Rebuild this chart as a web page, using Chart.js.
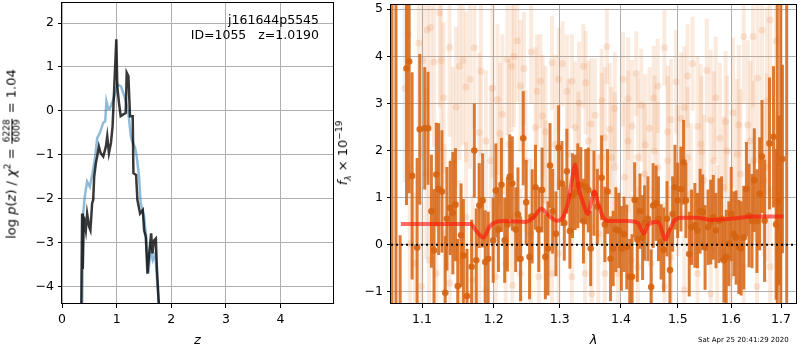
<!DOCTYPE html>
<html>
<head>
<meta charset="utf-8">
<script src="https://cdn.jsdelivr.net/npm/chart.js@4.4.1/dist/chart.umd.min.js"></script>
<style>
  body { margin: 0; background: #fff; }
  #wrap { position: relative; width: 800px; height: 350px; font-family: "DejaVu Sans", sans-serif; color: #000; }
  #pz { position: absolute; left: 0; top: 0; }
  #spec { position: absolute; left: 340px; top: 0; }
  .ytitle { position: absolute; transform: translate(-50%, -50%) rotate(-90deg); white-space: nowrap; font-size: 13px; line-height: 1; }
  .ytitle sup, .ytitle sub { font-size: 9px; }
  .frac { display: inline-block; vertical-align: middle; text-align: center; font-size: 9px; line-height: 1; margin: 0 1px; }
  .frac span { display: block; padding: 0 1px; }
  .frac span:first-child { border-bottom: 1px solid #000; }
  #stamp { position: absolute; left: 698px; top: 336px; font-size: 7px; white-space: nowrap; }
</style>
</head>
<body>
<div id="wrap">
  <canvas id="pz" width="340" height="350"></canvas>
  <canvas id="spec" width="460" height="350"></canvas>
  <div class="ytitle" style="left:12px; top:154px;">log <i>p</i>(<i>z</i>) / <i>χ</i><sup>2</sup> = <span class="frac"><span>6228</span><span>6009</span></span> = 1.04</div>
  <div class="ytitle" style="left:344px; top:153px;"><i>f</i><sub><i>λ</i></sub> × 10<sup>−19</sup></div>
  <div id="stamp">Sat Apr 25 20:41:29 2020</div>
</div>
<script>
// axis limits and ticks
const pzRangeX = [0, 4.96];
const pzRangeY = [-4.4, 2.48];
const pzTicksX = [0, 1, 2, 3, 4];
const pzTicksY = [-4, -3, -2, -1, 0, 1, 2];
const specRangeX = [1.0594, 1.7311];
const specRangeY = [-1.26, 5.11];
const specTicksX = [1.1, 1.2, 1.3, 1.4, 1.5, 1.6, 1.7];
const specTicksY = [-1, 0, 1, 2, 3, 4, 5];

// p(z) curves
const zBlue = [0.368, 0.387, 0.417, 0.46, 0.509, 0.558, 0.601, 0.644, 0.693, 0.755, 0.791, 0.813, 0.847, 0.877, 0.939, 0.96, 1.02, 1.08, 1.14, 1.172, 1.2, 1.215, 1.26, 1.276, 1.337, 1.368, 1.41, 1.44, 1.47, 1.5, 1.54, 1.58, 1.62, 1.66, 1.706, 1.736, 1.785];
const pzBlue = [-4.6, -2.34, -1.95, -1.61, -1.73, -1.42, -1.11, -0.62, -0.5, -0.27, -0.24, 0.22, 0.05, 0.05, 0.26, 0.34, 0.6, 0.56, 0.34, 0.2, 0.03, -0.05, -0.58, -0.66, -0.84, -1.04, -1.49, -2.1, -2.26, -2.4, -2.86, -3.7, -3.17, -3.4, -3.25, -3.79, -4.6];
const zDark = [0.352, 0.368, 0.38, 0.399, 0.436, 0.46, 0.497, 0.52, 0.552, 0.571, 0.589, 0.62, 0.644, 0.675, 0.706, 0.755, 0.804, 0.828, 0.859, 0.896, 0.926, 0.957, 0.994, 1.012, 1.043, 1.074, 1.123, 1.166, 1.184, 1.215, 1.245, 1.294, 1.307, 1.356, 1.38, 1.429, 1.479, 1.503, 1.534, 1.564, 1.601, 1.632, 1.656, 1.687, 1.718, 1.736, 1.78];
const pzDark = [-4.6, -2.34, -3.6, -2.41, -2.72, -2.34, -2.64, -2.72, -2.1, -2.03, -1.5, -1.19, -1.04, -0.81, -0.96, -1.04, -0.81, -0.58, -0.96, -0.73, -0.35, 0.56, 1.63, 0.56, 0.18, -0.12, -0.08, -0.05, 0.87, 0.79, -0.12, -0.12, -1.42, -1.46, -2.03, -2.34, -2.26, -2.72, -2.87, -3.71, -3.18, -2.79, -3.25, -2.95, -2.91, -3.56, -4.6];

// spectrum: main points
const specWave = [1.0606, 1.0658, 1.0712, 1.0795, 1.0830, 1.0869, 1.0935, 1.0970, 1.1036, 1.1081, 1.1126, 1.1161, 1.1192, 1.1224, 1.1269, 1.1314, 1.1337, 1.1382, 1.1419, 1.1455, 1.1487, 1.1534, 1.1566, 1.1617, 1.1682, 1.1720, 1.1748, 1.1791, 1.1838, 1.1876, 1.1919, 1.1991, 1.2030, 1.2068, 1.2112, 1.2160, 1.2200, 1.2234, 1.2273, 1.2323, 1.2357, 1.2396, 1.2436, 1.2481, 1.2532, 1.2572, 1.2623, 1.2673, 1.2724, 1.2775, 1.2816, 1.2847, 1.2888, 1.2939, 1.2981, 1.3034, 1.3071, 1.3112, 1.3160, 1.3202, 1.3244, 1.3287, 1.3335, 1.3378, 1.3415, 1.3458, 1.3496, 1.3550, 1.3605, 1.3676, 1.3730, 1.3774, 1.3825, 1.3869, 1.3914, 1.3964, 1.4008, 1.4053, 1.4099, 1.4150, 1.4190, 1.4235, 1.4281, 1.4327, 1.4373, 1.4408, 1.4466, 1.4523, 1.4558, 1.4611, 1.4652, 1.4699, 1.4746, 1.4805, 1.4858, 1.4906, 1.4948, 1.4997, 1.5057, 1.5105, 1.5148, 1.5209, 1.5252, 1.5313, 1.5362, 1.5411, 1.5460, 1.5504, 1.5560, 1.5610, 1.5660, 1.5710, 1.5767, 1.5817, 1.5862, 1.5907, 1.5958, 1.6003, 1.6054, 1.6099, 1.6151, 1.6196, 1.6249, 1.6301, 1.6353, 1.6412, 1.6458, 1.6511, 1.6564, 1.6611, 1.6664, 1.6764, 1.6845, 1.6899, 1.6923, 1.6960, 1.6994, 1.7029, 1.7117];
const specFlux = [-5, -5, -1.6, 3.74, 3.89, 1.46, -0.06, 2.45, 2.47, 2.47, 0.71, -0.12, 1.49, 1.18, 1.13, -1.02, 0.55, 0.78, 0.67, 0.85, -0.88, 0.2, -0.23, -1.09, -0.47, 2.0, -0.33, 0.83, 0.94, -0.37, -0.3, 0.09, 1.15, 0.32, 1.27, 0.09, 0.43, 1.44, 1.3, 0.32, 0.64, -0.3, 2.26, 0.9, -0.26, 0.6, 1.22, 0.32, 1.16, -0.26, -0.08, 1.68, 0.71, 0.23, 2.06, 1.3, 0.46, 1.56, 0.29, 1.04, 1.11, 1.25, 1.27, 0.5, 1.23, 1.16, -0.08, 1.09, 0.81, 1.42, 0.43, 1.13, -0.3, -0.08, 0.32, 0.3, -0.08, 0.22, -0.05, -0.68, -0.68, 0.95, 0.11, 0.71, 0.15, 0.46, 0.55, -0.9, 0.83, 0.88, 0.55, 0.06, -0.11, 0.55, -0.54, 0.65, 1.22, 0.94, 1.18, 1.75, 0.94, -0.2, 0.37, 0.41, 0.3, 0.71, 0.69, -0.06, 0.37, 0.48, 0.58, 0.3, 0.51, 0.55, -0.33, -0.26, 0.02, 0.65, 0.23, 0.15, -0.05, -0.08, 0.15, 1.18, 0.62, 0.5, 1.37, 0.5, 1.08, 1.87, 0.51, 2.15, 2.29, 0.43, 8, 0.94, 8, 1.82, 8];
const specErr = [12, 12, 1.8, 2.9, 2.8, 2.2, 1.9, 1.6, 1.3, 1.2, 1.2, 1.3, 1.1, 1.4, 1.3, 1.2, 1.1, 1.0, 1.3, 1.2, 1.0, 1.1, 1.2, 1.0, 1.0, 1.0, 1.1, 0.9, 1.0, 1.1, 1.0, 0.9, 1.0, 0.9, 1.0, 0.9, 1.0, 0.9, 1.0, 0.9, 1.0, 0.9, 1.0, 0.9, 0.9, 1.0, 0.9, 0.9, 0.9, 0.9, 1.0, 0.9, 0.9, 0.9, 0.9, 0.9, 0.8, 0.9, 0.8, 0.9, 0.8, 0.9, 0.8, 0.9, 0.8, 0.9, 0.8, 0.9, 0.8, 0.9, 0.8, 0.9, 0.9, 0.8, 0.9, 0.8, 0.9, 0.8, 0.9, 0.8, 0.9, 0.8, 0.9, 0.8, 0.9, 0.8, 0.9, 0.8, 0.9, 0.8, 0.9, 0.8, 0.9, 0.8, 0.9, 0.8, 0.9, 0.8, 0.9, 0.9, 0.8, 0.9, 0.8, 0.9, 0.8, 0.9, 0.8, 0.9, 0.8, 0.9, 0.9, 0.8, 0.9, 0.9, 0.9, 1.0, 0.9, 1.0, 0.9, 1.0, 1.0, 1.0, 1.1, 1.0, 1.1, 1.0, 1.1, 1.1, 1.2, 1.2, 1.3, 1.4, 1.5, 1.6, 12, 1.8, 12, 2.0, 12];

// spectrum: faint background points
const bgWave = [1.0774, 1.0817, 1.0957, 1.1014, 1.1068, 1.1112, 1.1161, 1.1237, 1.1259, 1.1291, 1.1373, 1.1464, 1.1510, 1.1557, 1.1603, 1.1659, 1.1720, 1.1815, 1.1886, 1.1981, 1.2054, 1.2088, 1.2127, 1.2200, 1.2264, 1.2298, 1.2347, 1.2396, 1.2446, 1.2557, 1.2648, 1.2699, 1.2734, 1.2775, 1.2878, 1.2981, 1.3044, 1.3112, 1.3191, 1.3308, 1.3378, 1.3415, 1.3502, 1.3567, 1.3676, 1.3730, 1.3763, 1.3814, 1.3897, 1.4036, 1.4122, 1.4190, 1.4264, 1.4350, 1.4419, 1.4494, 1.4569, 1.4640, 1.4758, 1.4817, 1.4876, 1.4967, 1.5057, 1.5118, 1.5178, 1.5270, 1.5362, 1.5436, 1.5535, 1.5610, 1.5704, 1.5786, 1.5894, 1.6041, 1.6151, 1.6249, 1.6327, 1.6432, 1.6524, 1.6611, 1.6711, 1.6777, 1.6899,
  1.0839, 1.0905, 1.0992, 1.1094, 1.1192, 1.1305, 1.1373, 1.1510, 1.1603, 1.1696, 1.1791, 1.1886, 1.2030, 1.2175, 1.2273, 1.2396, 1.2547, 1.2673, 1.2775, 1.2878, 1.2981, 1.3191, 1.3298, 1.3404, 1.3512, 1.3621, 1.3730, 1.3841, 1.3952, 1.4065, 1.4179, 1.4292, 1.4408, 1.4523, 1.4640, 1.4758, 1.4876, 1.4997, 1.5118, 1.5239, 1.5362, 1.5485, 1.5610, 1.5735, 1.5862, 1.5990, 1.6118, 1.6249, 1.6380, 1.6511, 1.6644, 1.6777, 1.6913,
  1.1058, 1.1419, 1.1791, 1.1957, 1.2224, 1.2471, 1.2623, 1.2929, 1.3138, 1.3244, 1.3458, 1.3676, 1.3897, 1.4122, 1.4292, 1.4581, 1.4817, 1.5178, 1.5424, 1.5672, 1.5926, 1.6183, 1.6445, 1.6711];
const bgFlux = [3.32, 4.46, 4.28, 3.91, 4.56, 4.61, 3.88, 4.92, 3.91, 3.12, 4.19, 2.92, 3.79, 3.91, 3.35, 3.51, 4.18, 3.68, 2.2, 3.32, 3.08, 2.36, 2.77, 3.93, 3.79, 4.0, 4.33, 3.37, 3.74, 4.09, 3.26, 3.47, 2.73, 2.4, 3.86, 3.51, 3.84, 3.26, 3.47, 3.01, 3.79, 3.44, 2.56, 2.75, 3.06, 2.27, 4.21, 2.45, 2.89, 3.51, 3.1, 2.52, 3.63, 2.96, 2.12, 2.47, 3.12, 3.37, 4.18, 2.4, 2.65, 3.46, 2.68, 2.91, 3.58, 3.84, 2.51, 1.98, 3.7, 2.64, 3.12, 2.26, 2.61, 2.8, 2.54, 4.42, 2.54, 4.42, 3.54, 4.55, 3.05, 4.77, 4.33,
  0.02, -0.4, -0.89, -0.33, -0.61, 0.23, -0.82, -0.33, 0.58, -0.75, 0.23, -0.96, -0.68, -0.4, -0.86, -0.61, 0.23, -0.68, 0.94, -0.61, -0.19, -0.68, 1.85, -0.61, -1.04, 0.23, -0.61, 1.85, -0.61, 1.43, -0.33, -0.47, 1.5, -0.4, 1.64, -0.89, -0.26, 1.36, -0.96, 1.08, -0.61, 1.36, -1.04, 0.09, 1.22, -0.68, 1.92, -0.47, 2.2, -0.89, 1.36, -0.47, 0.94,
  1.5, 1.78, 2.38, 1.78, 2.13, 1.78, 2.49, 2.13, 1.92, 2.49, 2.2, 1.85, 1.64, 2.2, 1.85, 1.99, 1.78, 1.85, 2.13, 1.78, 1.99, 1.5, 1.78, 1.64];
const bgErr = [2.0, 1.8, 1.9, 2.1, 1.7, 2.2, 1.8, 2.0, 1.9, 1.6, 1.9, 1.7, 2.0, 1.8, 1.6, 1.9, 1.7, 1.8, 1.5, 1.9, 1.6, 1.5, 1.7, 1.6, 1.4, 1.5, 1.3, 1.4, 1.2, 1.1, 1.2, 1.0, 1.3, 1.4, 1.0, 1.1, 0.9, 1.2, 1.0, 1.3, 0.9, 1.1, 1.4, 1.2, 1.1, 1.5, 0.8, 1.4, 1.2, 1.0, 1.3, 1.4, 0.9, 1.2, 1.5, 1.3, 1.1, 1.0, 0.8, 1.4, 1.3, 1.1, 1.4, 1.3, 1.1, 1.0, 1.5, 1.6, 1.1, 1.5, 1.3, 1.6, 1.5, 1.6, 1.7, 1.4, 1.8, 1.5, 1.8, 1.6, 2.0, 1.7, 1.9,
  1.7, 1.5, 1.8, 1.6, 1.4, 1.9, 1.5, 1.7, 1.6, 1.8, 1.5, 1.4, 1.6, 1.7, 1.5, 1.8, 1.6, 1.4, 1.7, 1.5, 1.6, 1.8, 1.4, 1.6, 1.5, 1.7, 1.6, 1.5, 1.8, 1.6, 1.4, 1.7, 1.5, 1.6, 1.4, 1.8, 1.5, 1.6, 1.7, 1.5, 1.6, 1.4, 1.8, 1.6, 1.5, 1.7, 1.6, 1.5, 1.7, 1.8, 1.6, 1.7, 1.9,
  1.8, 2.0, 1.7, 1.6, 1.8, 1.5, 1.7, 1.9, 1.6, 1.4, 1.7, 1.8, 1.6, 1.5, 1.7, 1.6, 1.8, 1.5, 1.7, 1.9, 1.6, 1.8, 1.7, 2.0];

// spectrum: model
const modelWave = [1.0722, 1.1673, 1.1743, 1.1852, 1.1933, 1.2029, 1.2175, 1.2471, 1.2597, 1.2708, 1.2826, 1.2955, 1.3043, 1.3138, 1.3191, 1.3244, 1.3297, 1.3377, 1.3447, 1.3512, 1.3555, 1.3621, 1.3703, 1.3785, 1.4121, 1.4292, 1.4395, 1.4465, 1.4581, 1.4669, 1.4728, 1.4775, 1.4847, 1.4936, 1.5056, 1.5361, 1.5609, 1.5989, 1.6445, 1.7049];
const modelFlux = [0.44, 0.44, 0.3, 0.15, 0.37, 0.48, 0.5, 0.48, 0.58, 0.76, 0.62, 0.51, 0.57, 0.94, 1.36, 1.7, 1.22, 0.87, 0.65, 0.94, 1.13, 0.87, 0.58, 0.5, 0.5, 0.46, 0.23, 0.41, 0.48, 0.46, 0.23, 0.11, 0.3, 0.51, 0.57, 0.57, 0.53, 0.55, 0.6, 0.6];
const zeroLevel = [0, 0];

const FONT = { family: "'DejaVu Sans', sans-serif", size: 12.5 };
Chart.defaults.color = '#000';
Chart.defaults.font.family = FONT.family;

function fmtTick(v, digits) {
  return Number(v).toFixed(digits).replace('-', '\u2212');
}

function axis(kind, range, ticks, digits, extra) {
  return Object.assign({
    type: 'linear',
    min: range[0],
    max: range[1],
    bounds: 'data',
    afterBuildTicks: s => { s.ticks = ticks.map(v => ({ value: v })); },
    ticks: { font: FONT, padding: 4, maxRotation: 0, autoSkip: false, callback: v => fmtTick(v, digits) },
    grid: { color: '#b0b0b0', lineWidth: 1, tickLength: 4, tickColor: '#000', tickWidth: 1 },
    border: { display: false },
  }, extra);
}

function fixSize(prop, size) {
  return s => {
    s[prop] = size;
    s.paddingTop = 0; s.paddingBottom = 0; s.paddingLeft = 0; s.paddingRight = 0;
  };
}

const framePlugin = {
  id: 'frame',
  afterDraw(chart) {
    const a = chart.chartArea, ctx = chart.ctx;
    ctx.save();
    ctx.strokeStyle = '#000';
    ctx.lineWidth = 1;
    ctx.strokeRect(Math.round(a.left) - 0.5, Math.round(a.top) + 0.5, Math.round(a.right - a.left) + 1, Math.round(a.bottom - a.top) - 1);
    ctx.restore();
  }
};

const labelPlugin = {
  id: 'idLabel',
  afterDraw(chart) {
    const a = chart.chartArea, ctx = chart.ctx;
    ctx.save();
    ctx.font = "12.5px 'DejaVu Sans', sans-serif";
    ctx.fillStyle = '#000';
    ctx.textAlign = 'right';
    ctx.textBaseline = 'alphabetic';
    ctx.fillText('j161644p5545', a.right - 14, 24);
    ctx.fillText('ID=1055   z=1.0190', a.right - 14, 39);
    ctx.restore();
  }
};

// vertical error bars, drawn under each dataset's markers
const errorBarPlugin = {
  id: 'errorBars',
  beforeDatasetDraw(chart, args) {
    const ds = chart.data.datasets[args.index];
    if (!ds.errors) return;
    const x = chart.scales.x, y = chart.scales.y, ctx = chart.ctx, a = chart.chartArea;
    ctx.save();
    ctx.beginPath();
    ctx.rect(a.left, a.top, a.right - a.left, a.bottom - a.top);
    ctx.clip();
    ctx.strokeStyle = ds.errorColor;
    ctx.lineWidth = ds.errorWidth;
    ds.data.forEach((p, i) => {
      const px = x.getPixelForValue(p.x);
      ctx.beginPath();
      ctx.moveTo(px, y.getPixelForValue(p.y - ds.errors[i]));
      ctx.lineTo(px, y.getPixelForValue(p.y + ds.errors[i]));
      ctx.stroke();
    });
    ctx.restore();
  }
};

const pts = (xs, ys) => xs.map((v, i) => ({ x: v, y: ys[i] }));

// left panel: p(z)
new Chart(document.getElementById('pz'), {
  type: 'scatter',
  data: {
    datasets: [
      { data: pts(zDark, pzDark), showLine: true, borderColor: 'rgba(0,0,0,0.78)', borderWidth: 2.5, pointRadius: 0, order: 0 },
      { data: pts(zBlue, pzBlue), showLine: true, borderColor: 'rgba(31,119,180,0.5)', borderWidth: 2.5, pointRadius: 0, order: 1 }
    ]
  },
  options: {
    responsive: false,
    animation: false,
    layout: { padding: { top: 2, right: 7, left: 0, bottom: 0 } },
    plugins: { legend: { display: false }, tooltip: { enabled: false } },
    scales: {
      x: axis('x', pzRangeX, pzTicksX, 0, {
        afterFit: fixSize('height', 46),
        title: { display: true, text: 'z', font: { family: FONT.family, size: 13, style: 'italic' }, padding: { top: 0, bottom: 2 } }
      }),
      y: axis('y', pzRangeY, pzTicksY, 0, { afterFit: fixSize('width', 62) })
    }
  },
  plugins: [framePlugin, labelPlugin]
});

// right panel: spectrum
new Chart(document.getElementById('spec'), {
  type: 'scatter',
  data: {
    datasets: [
      { data: [{ x: specRangeX[0], y: zeroLevel[0] }, { x: specRangeX[1], y: zeroLevel[1] }], showLine: true, borderColor: '#000', borderWidth: 2, borderDash: [2, 3], pointRadius: 0, order: 0 },
      { data: pts(modelWave, modelFlux), showLine: true, borderColor: 'rgba(255,20,10,0.62)', borderWidth: 4, cubicInterpolationMode: 'monotone', pointRadius: 0, order: 1 },
      { data: pts(specWave, specFlux), errors: specErr, errorColor: 'rgba(214,100,18,0.85)', errorWidth: 3, backgroundColor: 'rgba(214,100,18,0.9)', borderWidth: 0, pointRadius: 3.3, order: 2 },
      { data: pts(bgWave, bgFlux), errors: bgErr, errorColor: 'rgba(230,130,60,0.17)', errorWidth: 4, backgroundColor: 'rgba(230,130,60,0.18)', borderWidth: 0, pointRadius: 3.5, order: 3 }
    ]
  },
  options: {
    responsive: false,
    animation: false,
    layout: { padding: { top: 2, right: 1, left: 0, bottom: 0 } },
    plugins: { legend: { display: false }, tooltip: { enabled: false } },
    scales: {
      x: axis('x', specRangeX, specTicksX, 1, {
        type: 'logarithmic',
        afterFit: fixSize('height', 46),
        title: { display: true, text: 'λ', font: { family: FONT.family, size: 13, style: 'italic' }, padding: { top: 0, bottom: 2 } }
      }),
      y: axis('y', specRangeY, specTicksY, 0, { afterFit: fixSize('width', 51) })
    }
  },
  plugins: [errorBarPlugin, framePlugin]
});
</script>
</body>
</html>
